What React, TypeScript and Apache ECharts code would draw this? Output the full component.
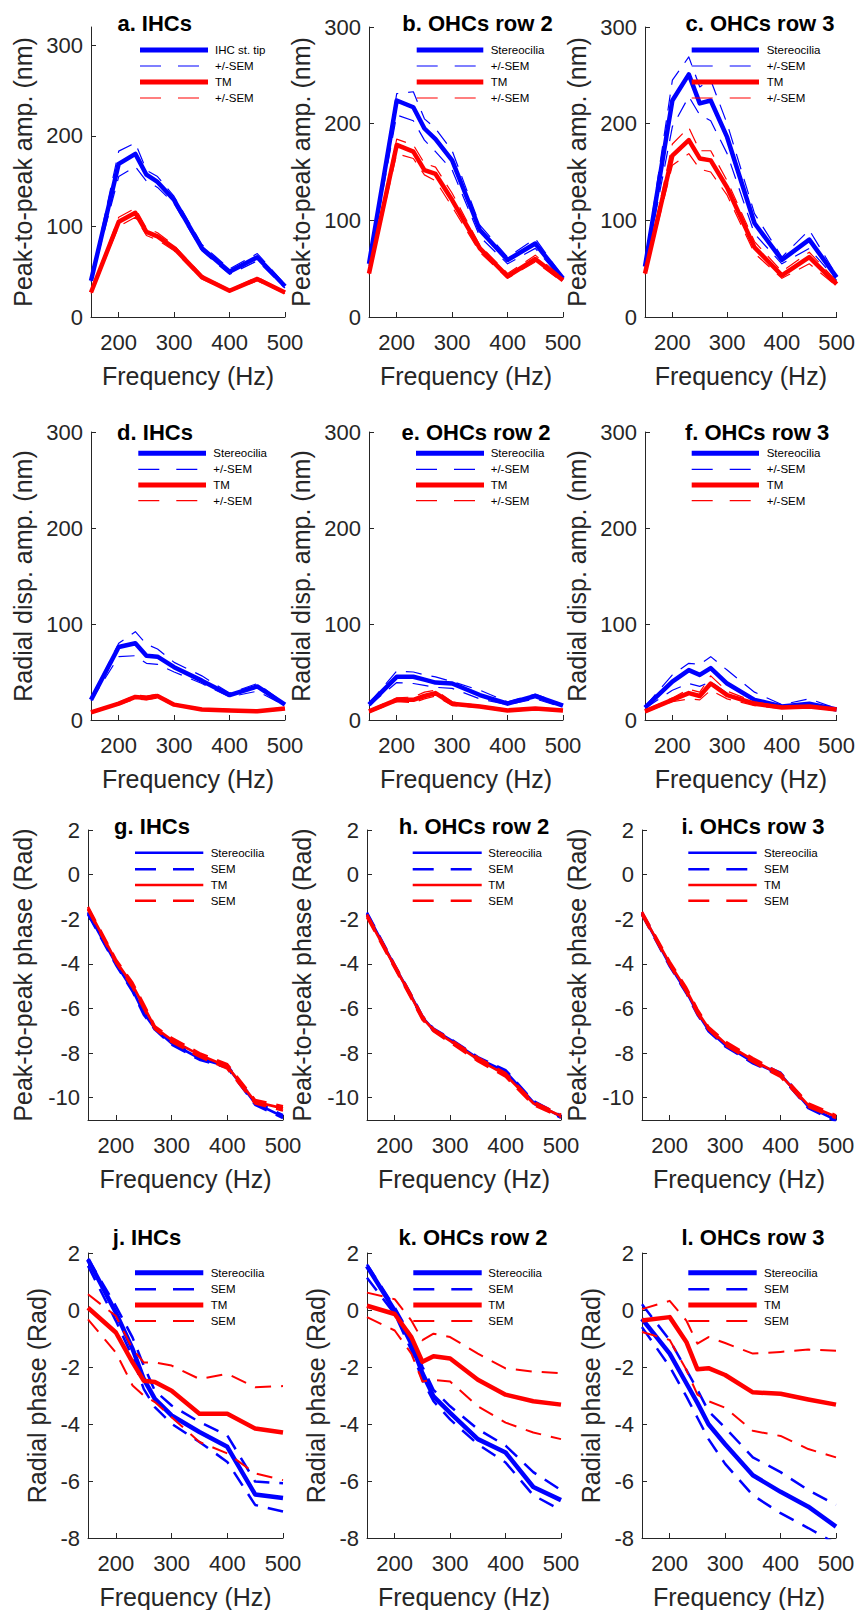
import React, { useEffect, useRef } from 'react';
import * as echarts from 'echarts';

// ---------------- data ----------------
const FREQ_HZ = [150, 200, 230, 250, 270, 300, 350, 400, 450, 500];
const X_TICKS = [200, 300, 400, 500];
const AMP_TICKS = [0, 100, 200, 300];
const PP_PHASE_TICKS = [-10, -8, -6, -4, -2, 0, 2];
const RAD_PHASE_TICKS = [-8, -6, -4, -2, 0, 2];

// a. IHCs peak-to-peak amplitude (nm)
const A_ST = [40, 169, 180, 157, 149, 129, 76, 50, 66, 34];
const A_ST_UP = [41, 183, 192, 162, 155, 133, 80, 53, 70, 36];
const A_ST_LO = [39, 155, 166, 150, 143, 125, 73, 47, 62, 32];
const A_TM = [27, 105, 115, 94, 89, 76, 44, 29, 42, 27];
const A_TM_UP = [28, 110, 120, 98, 93, 79, 46, 30, 44, 28];
const A_TM_LO = [26, 100, 110, 90, 85, 73, 42, 28, 40, 26];

// b. OHCs row 2 peak-to-peak amplitude
const B_ST = [55, 224, 217, 195, 184, 162, 90, 59, 76, 40];
const B_ST_UP = [57, 231, 233, 205, 195, 172, 95, 62, 81, 41];
const B_ST_LO = [53, 209, 203, 183, 171, 152, 83, 55, 71, 38];
const B_TM = [45, 178, 171, 152, 148, 121, 71, 42, 60, 38];
const B_TM_UP = [46, 184, 178, 159, 155, 128, 74, 45, 64, 40];
const B_TM_LO = [44, 169, 164, 147, 141, 114, 67, 40, 57, 36];

// c. OHCs row 3 peak-to-peak amplitude
const C_ST = [52, 224, 251, 221, 224, 186, 97, 59, 80, 41];
const C_ST_UP = [54, 245, 269, 238, 245, 200, 107, 62, 90, 43];
const C_ST_LO = [50, 197, 228, 209, 203, 169, 86, 55, 71, 38];
const C_TM = [45, 167, 183, 164, 162, 134, 72, 43, 62, 34];
const C_TM_UP = [46, 179, 196, 172, 172, 141, 78, 47, 67, 37];
const C_TM_LO = [44, 157, 169, 153, 150, 126, 66, 40, 55, 32];

// d. IHCs radial displacement amplitude
const D_ST = [21, 76, 80, 67, 66, 55, 41, 26, 35, 16];
const D_ST_UP = [22, 80, 92, 79, 74, 60, 46, 28, 38, 17];
const D_ST_LO = [20, 66, 67, 59, 58, 50, 38, 24, 30, 15];
const D_TM = [8, 17, 24, 23, 25, 16, 11, 10, 9, 12];
const D_TM_UP = [9, 18, 26, 25, 27, 17, 12, 11, 10, 13];
const D_TM_LO = [7, 16, 22, 21, 23, 15, 10, 9, 8, 11];

// e. OHCs row 2 radial displacement amplitude
const E_ST = [16, 45, 45, 42, 39, 38, 26, 17, 25, 15];
const E_ST_UP = [17, 51, 50, 47, 45, 40, 31, 19, 27, 16];
const E_ST_LO = [15, 39, 38, 36, 34, 33, 22, 16, 22, 13];
const E_TM = [9, 21, 21, 25, 28, 17, 14, 10, 12, 10];
const E_TM_UP = [10, 23, 24, 29, 31, 19, 15, 11, 13, 11];
const E_TM_LO = [8, 19, 18, 22, 25, 15, 13, 9, 11, 9];

// f. OHCs row 3 radial displacement amplitude
const F_ST = [13, 40, 52, 47, 54, 38, 21, 14, 17, 11];
const F_ST_UP = [14, 47, 59, 58, 66, 52, 29, 16, 22, 12];
const F_ST_LO = [12, 31, 38, 35, 40, 28, 17, 12, 15, 10];
const F_TM = [9, 21, 28, 25, 38, 26, 17, 13, 14, 11];
const F_TM_UP = [10, 23, 32, 29, 46, 30, 19, 14, 15, 12];
const F_TM_LO = [8, 19, 22, 21, 31, 22, 15, 12, 13, 10];

// g. IHCs peak-to-peak phase (rad)
const G_ST = [-1.73, -3.98, -5.17, -6.2, -6.9, -7.56, -8.24, -8.6, -10.25, -10.85];
const G_ST_UP = [-1.68, -3.92, -5.1, -6.12, -6.85, -7.5, -8.18, -8.55, -10.18, -10.78];
const G_ST_LO = [-1.78, -4.04, -5.24, -6.28, -6.95, -7.62, -8.3, -8.65, -10.32, -10.92];
const G_TM = [-1.51, -3.87, -4.95, -5.9, -6.86, -7.41, -8.08, -8.6, -10.18, -10.48];
const G_TM_UP = [-1.45, -3.8, -4.85, -5.8, -6.8, -7.32, -8.0, -8.5, -10.1, -10.38];
const G_TM_LO = [-1.57, -3.94, -5.05, -6.0, -6.92, -7.5, -8.16, -8.7, -10.26, -10.58];

// h. OHCs row 2 peak-to-peak phase
const H_ST = [-1.75, -4.1, -5.45, -6.4, -6.95, -7.4, -8.24, -8.83, -10.2, -10.85];
const H_ST_UP = [-1.7, -4.05, -5.4, -6.34, -6.9, -7.35, -8.18, -8.76, -10.14, -10.8];
const H_ST_LO = [-1.8, -4.15, -5.5, -6.46, -7.0, -7.45, -8.3, -8.9, -10.26, -10.9];
const H_TM = [-1.85, -4.12, -5.48, -6.42, -6.97, -7.45, -8.28, -8.98, -10.25, -10.82];
const H_TM_UP = [-1.78, -4.05, -5.4, -6.34, -6.92, -7.38, -8.2, -8.9, -10.18, -10.76];
const H_TM_LO = [-1.92, -4.19, -5.56, -6.5, -7.02, -7.52, -8.36, -9.06, -10.32, -10.88];

// i. OHCs row 3 peak-to-peak phase
const I_ST = [-1.74, -4.05, -5.25, -6.2, -6.97, -7.64, -8.39, -8.95, -10.4, -11.0];
const I_ST_UP = [-1.69, -3.99, -5.18, -6.12, -6.92, -7.58, -8.32, -8.88, -10.33, -10.94];
const I_ST_LO = [-1.79, -4.11, -5.32, -6.28, -7.02, -7.7, -8.46, -9.02, -10.47, -11.06];
const I_TM = [-1.74, -3.98, -5.17, -6.14, -6.89, -7.56, -8.31, -8.99, -10.33, -10.85];
const I_TM_UP = [-1.67, -3.9, -5.07, -6.04, -6.83, -7.48, -8.22, -8.91, -10.25, -10.79];
const I_TM_LO = [-1.81, -4.06, -5.27, -6.24, -6.95, -7.64, -8.4, -9.07, -10.41, -10.91];

// j. IHCs radial phase (rad)
const J_ST = [1.77, -0.09, -1.37, -2.42, -3.12, -3.7, -4.28, -4.8, -6.47, -6.6];
const J_ST_UP = [1.8, 0.14, -0.97, -1.95, -2.83, -3.35, -3.93, -4.4, -6.02, -6.08];
const J_ST_LO = [1.55, -0.38, -1.66, -2.77, -3.41, -3.99, -4.63, -5.33, -6.84, -7.07];
const J_TM = [0.08, -0.79, -1.84, -2.48, -2.53, -2.83, -3.64, -3.64, -4.16, -4.3];
const J_TM_UP = [0.55, -0.21, -1.37, -1.84, -1.84, -1.95, -2.42, -2.24, -2.71, -2.67];
const J_TM_LO = [-0.33, -1.49, -2.65, -3.0, -3.23, -3.76, -4.63, -5.03, -5.73, -5.97];

// k. OHCs row 2 radial phase
const K_ST = [1.54, -0.02, -1.18, -2.22, -3.03, -3.61, -4.53, -5.0, -6.21, -6.67];
const K_ST_UP = [1.6, 0.09, -0.95, -1.99, -2.8, -3.38, -4.18, -4.76, -5.69, -6.32];
const K_ST_LO = [1.13, -0.14, -1.41, -2.45, -3.2, -3.84, -4.71, -5.35, -6.5, -7.02];
const K_TM = [0.15, -0.14, -0.95, -1.82, -1.62, -1.7, -2.45, -2.97, -3.2, -3.32];
const K_TM_UP = [0.61, 0.38, -0.37, -1.06, -0.83, -0.95, -1.53, -2.05, -2.16, -2.22];
const K_TM_LO = [-0.25, -0.72, -1.53, -2.51, -2.45, -2.51, -3.38, -3.95, -4.3, -4.53];

// l. OHCs row 3 radial phase
const L_ST = [-0.31, -1.53, -2.57, -3.26, -4.01, -4.71, -5.8, -6.38, -6.9, -7.6];
const L_ST_UP = [0.2, -1.06, -2.1, -2.8, -3.55, -4.13, -5.17, -5.69, -6.32, -6.84];
const L_ST_LO = [-0.6, -1.99, -3.03, -3.78, -4.53, -5.4, -6.5, -7.13, -7.65, -8.2];
const L_TM = [-0.37, -0.25, -1.12, -2.08, -2.04, -2.28, -2.89, -2.94, -3.14, -3.32];
const L_TM_UP = [0.03, 0.32, -0.37, -1.18, -0.95, -1.16, -1.53, -1.47, -1.39, -1.43];
const L_TM_LO = [-0.77, -1.05, -2.1, -2.97, -3.2, -3.43, -4.24, -4.42, -4.88, -5.17];

// ---------------- panel table ----------------
const AMP_PP = 'Peak-to-peak amp. (nm)';
const AMP_RAD = 'Radial disp. amp. (nm)';
const PH_PP = 'Peak-to-peak phase (Rad)';
const PH_RAD = 'Radial phase (Rad)';

const PANELS = [
  { title: 'a. IHCs', st: 'IHC st. tip', sem: '+/-SEM', yName: AMP_PP, yMin: 0, yMax: 320, yTicks: AMP_TICKS, d: [A_ST, A_ST_UP, A_ST_LO, A_TM, A_TM_UP, A_TM_LO] },
  { title: 'b. OHCs row 2', st: 'Stereocilia', sem: '+/-SEM', yName: AMP_PP, yMin: 0, yMax: 300, yTicks: AMP_TICKS, d: [B_ST, B_ST_UP, B_ST_LO, B_TM, B_TM_UP, B_TM_LO] },
  { title: 'c. OHCs row 3', st: 'Stereocilia', sem: '+/-SEM', yName: AMP_PP, yMin: 0, yMax: 300, yTicks: AMP_TICKS, d: [C_ST, C_ST_UP, C_ST_LO, C_TM, C_TM_UP, C_TM_LO] },
  { title: 'd. IHCs', st: 'Stereocilia', sem: '+/-SEM', yName: AMP_RAD, yMin: 0, yMax: 300, yTicks: AMP_TICKS, d: [D_ST, D_ST_UP, D_ST_LO, D_TM, D_TM_UP, D_TM_LO] },
  { title: 'e. OHCs row 2', st: 'Stereocilia', sem: '+/-SEM', yName: AMP_RAD, yMin: 0, yMax: 300, yTicks: AMP_TICKS, d: [E_ST, E_ST_UP, E_ST_LO, E_TM, E_TM_UP, E_TM_LO] },
  { title: 'f. OHCs row 3', st: 'Stereocilia', sem: '+/-SEM', yName: AMP_RAD, yMin: 0, yMax: 300, yTicks: AMP_TICKS, d: [F_ST, F_ST_UP, F_ST_LO, F_TM, F_TM_UP, F_TM_LO] },
  { title: 'g. IHCs', st: 'Stereocilia', sem: 'SEM', yName: PH_PP, yMin: -11, yMax: 2, yTicks: PP_PHASE_TICKS, d: [G_ST, G_ST_UP, G_ST_LO, G_TM, G_TM_UP, G_TM_LO] },
  { title: 'h. OHCs row 2', st: 'Stereocilia', sem: 'SEM', yName: PH_PP, yMin: -11, yMax: 2, yTicks: PP_PHASE_TICKS, d: [H_ST, H_ST_UP, H_ST_LO, H_TM, H_TM_UP, H_TM_LO] },
  { title: 'i. OHCs row 3', st: 'Stereocilia', sem: 'SEM', yName: PH_PP, yMin: -11, yMax: 2, yTicks: PP_PHASE_TICKS, d: [I_ST, I_ST_UP, I_ST_LO, I_TM, I_TM_UP, I_TM_LO] },
  { title: 'j. IHCs', st: 'Stereocilia', sem: 'SEM', yName: PH_RAD, yMin: -8, yMax: 2, yTicks: RAD_PHASE_TICKS, d: [J_ST, J_ST_UP, J_ST_LO, J_TM, J_TM_UP, J_TM_LO] },
  { title: 'k. OHCs row 2', st: 'Stereocilia', sem: 'SEM', yName: PH_RAD, yMin: -8, yMax: 2, yTicks: RAD_PHASE_TICKS, d: [K_ST, K_ST_UP, K_ST_LO, K_TM, K_TM_UP, K_TM_LO] },
  { title: 'l. OHCs row 3', st: 'Stereocilia', sem: 'SEM', yName: PH_RAD, yMin: -8, yMax: 2, yTicks: RAD_PHASE_TICKS, d: [L_ST, L_ST_UP, L_ST_LO, L_TM, L_TM_UP, L_TM_LO] },
];

// ---------------- layout / style ----------------
const FONT = '"Liberation Sans", Arial, Helvetica, sans-serif';
const BLUE = '#0000ff';
const RED = '#ff0000';
const AXIS = '#262626';
const DASH = [16, 10];
const LEG_DASH = [21, 17];

const ROW_TOP = [27, 432, 830, 1253];
const ROW_H = [290, 288, 290, 287];
const COL_LEFT = [
  [91, 369, 645],
  [91, 369, 645],
  [88, 367, 642],
  [88, 367, 642],
];
const COL_W = [
  [194, 194, 194],
  [194, 194, 194],
  [195, 194, 194],
  [195, 194, 194],
];
const Y_NAME_GAP = [56, 56, 53, 39];
const TITLE_POS = [
  [154.7, 23], [477.5, 23], [760, 23],
  [155, 432.5], [476, 432.5], [757, 432.5],
  [152, 826], [474, 826], [753, 826],
  [147, 1237.5], [473, 1237.5], [753, 1237.5],
];
const LEG_X = [
  [140, 208, 215], [416.7, 483.3, 490.7], [691.7, 759, 766.7],
  [138.3, 206, 213.3], [416, 484, 490.7], [691.7, 759, 766.7],
  [135, 203.3, 210.7], [412.7, 481.7, 488.3], [688.3, 756.7, 764],
  [135, 203.3, 210.7], [413.3, 481.7, 488.3], [688.3, 756.7, 764],
];
const LEG_Y = [
  [50, 66, 82, 98],
  [453.3, 469.3, 485, 500.7],
  [852.7, 869.3, 885, 900.7],
  [1272.7, 1289.3, 1305, 1321],
];
const ROW_STYLE = [
  { main: 4.5, semB: 1.2, semR: 1.2, legMain: 5 },
  { main: 4.5, semB: 1.2, semR: 1.2, legMain: 5 },
  { main: 2.7, semB: 2.5, semR: 2.5, legMain: 2.5 },
  { main: 4.5, semB: 2.5, semR: 2, legMain: 5 },
];

function buildOption() {
  const grid: any[] = [];
  const xAxis: any[] = [];
  const yAxis: any[] = [];
  const series: any[] = [];
  const graphic: any[] = [];

  PANELS.forEach((p, i) => {
    const row = Math.floor(i / 3);
    const col = i % 3;
    const rs = ROW_STYLE[row];
    grid.push({ left: COL_LEFT[row][col], top: ROW_TOP[row], width: COL_W[row][col], height: ROW_H[row], containLabel: false });
    xAxis.push({
      type: 'value', gridIndex: i, min: 150, max: 500,
      name: 'Frequency (Hz)', nameLocation: 'middle', nameGap: 46,
      nameTextStyle: { fontSize: 25, color: AXIS, fontFamily: FONT, lineHeight: 25 },
      axisLine: { show: true, onZero: false, lineStyle: { color: AXIS, width: 1 } },
      axisTick: { show: true, inside: true, length: 5, customValues: X_TICKS, lineStyle: { color: AXIS } },
      axisLabel: { customValues: X_TICKS, color: AXIS, fontSize: 22, fontFamily: FONT, margin: 14, lineHeight: 22 },
      splitLine: { show: false },
    });
    yAxis.push({
      type: 'value', gridIndex: i, min: p.yMin, max: p.yMax,
      name: p.yName, nameLocation: 'middle', nameGap: Y_NAME_GAP[row],
      nameTextStyle: { fontSize: 25, color: AXIS, fontFamily: FONT, lineHeight: 25 },
      axisLine: { show: true, onZero: false, lineStyle: { color: AXIS, width: 1 } },
      axisTick: { show: true, inside: true, length: 5, customValues: p.yTicks, lineStyle: { color: AXIS } },
      axisLabel: { customValues: p.yTicks, color: AXIS, fontSize: 22, fontFamily: FONT, margin: 8 },
      splitLine: { show: false },
    });
    const defs = [
      { color: BLUE, width: rs.main, type: 'solid' },
      { color: BLUE, width: rs.semB, type: DASH },
      { color: BLUE, width: rs.semB, type: DASH },
      { color: RED, width: rs.main, type: 'solid' },
      { color: RED, width: rs.semR, type: DASH },
      { color: RED, width: rs.semR, type: DASH },
    ];
    const names = [p.st, p.sem, p.sem, 'TM', p.sem, p.sem];
    p.d.forEach((arr, k) => {
      series.push({
        type: 'line', name: names[k], xAxisIndex: i, yAxisIndex: i,
        data: FREQ_HZ.map((f, j) => [f, arr[j]]),
        symbol: 'none', showSymbol: false, silent: true, clip: true,
        lineStyle: { color: defs[k].color, width: defs[k].width, type: defs[k].type, cap: 'butt', join: 'round' },
        z: 2 + k,
      });
    });

    // title
    graphic.push({
      type: 'text', x: TITLE_POS[i][0], y: TITLE_POS[i][1], z: 100,
      style: { text: p.title, font: `bold 22px ${FONT}`, fill: '#000', textAlign: 'center', textVerticalAlign: 'middle' },
    });
    // legend
    const lx = LEG_X[i];
    const ly = LEG_Y[row];
    const legItems = [
      { label: p.st, color: BLUE, w: rs.legMain, dash: null },
      { label: p.sem, color: BLUE, w: rs.semB, dash: LEG_DASH },
      { label: 'TM', color: RED, w: rs.legMain, dash: null },
      { label: p.sem, color: RED, w: rs.semR, dash: LEG_DASH },
    ];
    legItems.forEach((it, k) => {
      graphic.push({
        type: 'line', z: 100, silent: true,
        shape: { x1: lx[0], y1: ly[k], x2: lx[1], y2: ly[k] },
        style: { stroke: it.color, lineWidth: it.w, lineDash: it.dash || undefined },
      });
      graphic.push({
        type: 'text', x: lx[2], y: ly[k], z: 100, silent: true,
        style: { text: it.label, font: `11.5px ${FONT}`, fill: '#000', textAlign: 'left', textVerticalAlign: 'middle' },
      });
    });
  });

  return {
    animation: false,
    backgroundColor: '#ffffff',
    grid, xAxis, yAxis, series, graphic,
  };
}

export default function App() {
  const ref = useRef<HTMLDivElement>(null);
  useEffect(() => {
    if (!ref.current) return;
    const chart = echarts.init(ref.current, null, { renderer: 'svg' });
    chart.setOption(buildOption() as any);
    return () => chart.dispose();
  }, []);
  return (
    <div
      ref={ref}
      style={{ position: 'absolute', left: 0, top: 0, width: 858, height: 1610, background: '#fff' }}
    />
  );
}
